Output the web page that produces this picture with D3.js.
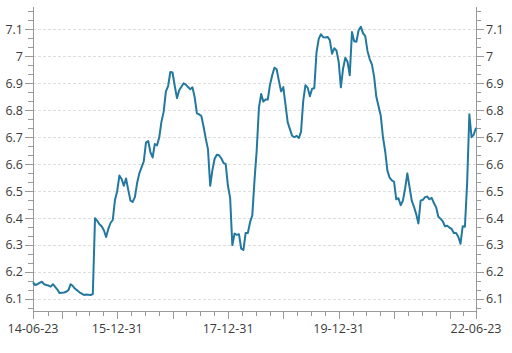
<!DOCTYPE html>
<html>
<head>
<meta charset="utf-8">
<script src="https://cdn.jsdelivr.net/npm/d3@7"></script>
<style>
  html, body { margin: 0; padding: 0; background: #fff; }
  svg { display: block; font-family: "Open Sans", "Noto Sans", sans-serif; }
</style>
</head>
<body>
<script>
// rate series, evenly spaced from start to end (about every two weeks)
var startDate = new Date(2014, 5, 23);
var endDate   = new Date(2022, 5, 23);
var rates = [
  6.162, 6.152, 6.155, 6.160, 6.164, 6.155, 6.152, 6.150, 6.146, 6.155,
  6.145, 6.135, 6.122, 6.123, 6.124, 6.127, 6.133, 6.155, 6.148, 6.138,
  6.132, 6.125, 6.120, 6.115, 6.117, 6.116, 6.115, 6.118, 6.400, 6.390,
  6.377, 6.370, 6.355, 6.330, 6.360, 6.382, 6.393, 6.467, 6.500, 6.558,
  6.545, 6.520, 6.547, 6.505, 6.465, 6.460, 6.478, 6.530, 6.566, 6.588,
  6.610, 6.680, 6.686, 6.645, 6.625, 6.675, 6.670, 6.700, 6.758, 6.795,
  6.870, 6.890, 6.942, 6.940, 6.890, 6.845, 6.874, 6.887, 6.900, 6.895,
  6.886, 6.878, 6.885, 6.848, 6.789, 6.785, 6.779, 6.740, 6.695, 6.655,
  6.520, 6.578, 6.620, 6.635, 6.633, 6.622, 6.605, 6.600, 6.520, 6.475,
  6.300, 6.343, 6.338, 6.340, 6.287, 6.282, 6.345, 6.345, 6.385, 6.410,
  6.540, 6.652, 6.810, 6.860, 6.832, 6.840, 6.840, 6.895, 6.930, 6.958,
  6.952, 6.910, 6.870, 6.886, 6.820, 6.755, 6.730, 6.705, 6.700, 6.705,
  6.697, 6.720, 6.835, 6.893, 6.884, 6.852, 6.880, 6.882, 7.015, 7.065,
  7.082, 7.071, 7.070, 7.072, 7.060, 7.010, 7.030, 7.022, 6.980, 6.885,
  6.955, 6.995, 6.980, 6.930, 7.090, 7.056, 7.054, 7.097, 7.110, 7.085,
  7.075, 7.020, 6.990, 6.970, 6.925, 6.850, 6.815, 6.780, 6.700, 6.648,
  6.576, 6.550, 6.540, 6.535, 6.470, 6.474, 6.448, 6.465, 6.510, 6.566,
  6.515, 6.465, 6.442, 6.415, 6.380, 6.465, 6.468, 6.478, 6.480, 6.470,
  6.475, 6.456, 6.440, 6.405, 6.398, 6.388, 6.370, 6.372, 6.365, 6.360,
  6.345, 6.345, 6.331, 6.305, 6.370, 6.368, 6.530, 6.785, 6.700, 6.710,
  6.735
];

// axis ticks
var yTicks      = [6.1, 6.2, 6.3, 6.4, 6.5, 6.6, 6.7, 6.8, 6.9, 7.0, 7.1];
var yTickLabels = ["6.1", "6.2", "6.3", "6.4", "6.5", "6.6", "6.7", "6.8", "6.9", "7", "7.1"];
var xLabelDates = ["2014-06-23", "2015-12-31", "2017-12-31", "2019-12-31", "2022-06-23"];
var xLabels     = ["14-06-23", "15-12-31", "17-12-31", "19-12-31", "22-06-23"];

var width = 512, height = 353;
var plotLeft = 33, plotRight = 476, plotTop = 7, plotBottom = 311;
var lineColor = "#23789f", axisColor = "#9a9a9a", textColor = "#3a3a3a";

var parse = d3.timeParse("%Y-%m-%d");
var data = rates.map(function (v, i) {
  return { date: new Date(+startDate + i * (endDate - startDate) / (rates.length - 1)), value: v };
});

var x = d3.scaleTime().domain([startDate, endDate]).range([plotLeft, plotRight]);
var y = d3.scaleLinear().domain([6.0556, 7.183]).range([plotBottom, plotTop]);

var svg = d3.select("body").append("svg").attr("width", width).attr("height", height);
svg.append("rect").attr("width", width).attr("height", height).attr("fill", "#fff");

// gridlines
svg.append("g").selectAll("line").data(yTicks).enter().append("line")
  .attr("x1", plotLeft).attr("x2", plotRight)
  .attr("y1", function (d) { return Math.round(y(d)) + 0.5; })
  .attr("y2", function (d) { return Math.round(y(d)) + 0.5; })
  .attr("stroke", "#dedede").attr("stroke-dasharray", "3,2");

// minor y ticks (every 1/30)
var yMinor = d3.range(-1, 33).map(function (k) { return 6.1 + k / 30; })
  .filter(function (v) { return v > y.domain()[0] && v < y.domain()[1] && Math.abs(v * 10 - Math.round(v * 10)) > 0.01; });

function yAxis(side) {
  var g = svg.append("g");
  var x0 = side < 0 ? plotLeft : plotRight;
  g.append("line").attr("x1", x0 + 0.5).attr("x2", x0 + 0.5).attr("y1", plotTop).attr("y2", plotBottom)
    .attr("stroke", axisColor);
  g.selectAll(".minor").data(yMinor).enter().append("line")
    .attr("x1", x0).attr("x2", x0 + side * 5)
    .attr("y1", function (d) { return Math.round(y(d)) + 0.5; })
    .attr("y2", function (d) { return Math.round(y(d)) + 0.5; })
    .attr("stroke", axisColor);
  g.selectAll(".major").data(yTicks).enter().append("line")
    .attr("x1", x0).attr("x2", x0 + side * 8)
    .attr("y1", function (d) { return Math.round(y(d)) + 0.5; })
    .attr("y2", function (d) { return Math.round(y(d)) + 0.5; })
    .attr("stroke", axisColor);
  g.selectAll("text").data(yTicks).enter().append("text")
    .attr("x", x0 + side * 10)
    .attr("y", function (d) { return y(d); })
    .attr("dy", "0.35em")
    .attr("text-anchor", side < 0 ? "end" : "start")
    .attr("font-size", 12.5).attr("fill", textColor)
    .text(function (d, i) { return yTickLabels[i]; });
}
yAxis(-1);
yAxis(1);

// x axis: quarter-end ticks, year-end major
var quarterEnds = [];
for (var yr = 2014; yr <= 2022; yr++) {
  [3, 6, 9, 12].forEach(function (m) {
    var d = d3.timeDay.offset(new Date(yr, m, 1), -1);
    if (d > d3.timeDay.offset(startDate, 10) && d < d3.timeDay.offset(endDate, -10)) quarterEnds.push(d);
  });
}
var xg = svg.append("g");
xg.append("line").attr("x1", plotLeft).attr("x2", plotRight + 1).attr("y1", plotBottom + 0.5).attr("y2", plotBottom + 0.5)
  .attr("stroke", axisColor);
xg.selectAll(".q").data(quarterEnds).enter().append("line")
  .attr("x1", function (d) { return Math.round(x(d)) + 0.5; })
  .attr("x2", function (d) { return Math.round(x(d)) + 0.5; })
  .attr("y1", plotBottom)
  .attr("y2", function (d) { return plotBottom + (d.getMonth() === 11 ? 8 : 5); })
  .attr("stroke", axisColor);
xg.selectAll(".e").data([startDate, endDate]).enter().append("line")
  .attr("x1", function (d) { return Math.round(x(d)) + 0.5; })
  .attr("x2", function (d) { return Math.round(x(d)) + 0.5; })
  .attr("y1", plotBottom).attr("y2", plotBottom + 8)
  .attr("stroke", axisColor);
xg.selectAll("text").data(xLabelDates).enter().append("text")
  .attr("x", function (d) { return x(parse(d)); })
  .attr("y", plotBottom + 22)
  .attr("text-anchor", "middle")
  .attr("font-size", 12.5).attr("fill", textColor)
  .text(function (d, i) { return xLabels[i]; });

// the rate line
var line = d3.line()
  .x(function (d) { return x(d.date); })
  .y(function (d) { return y(d.value); });

svg.append("path").datum(data)
  .attr("d", line)
  .attr("fill", "none")
  .attr("stroke", lineColor)
  .attr("stroke-width", 2)
  .attr("stroke-linejoin", "round");
</script>
</body>
</html>
